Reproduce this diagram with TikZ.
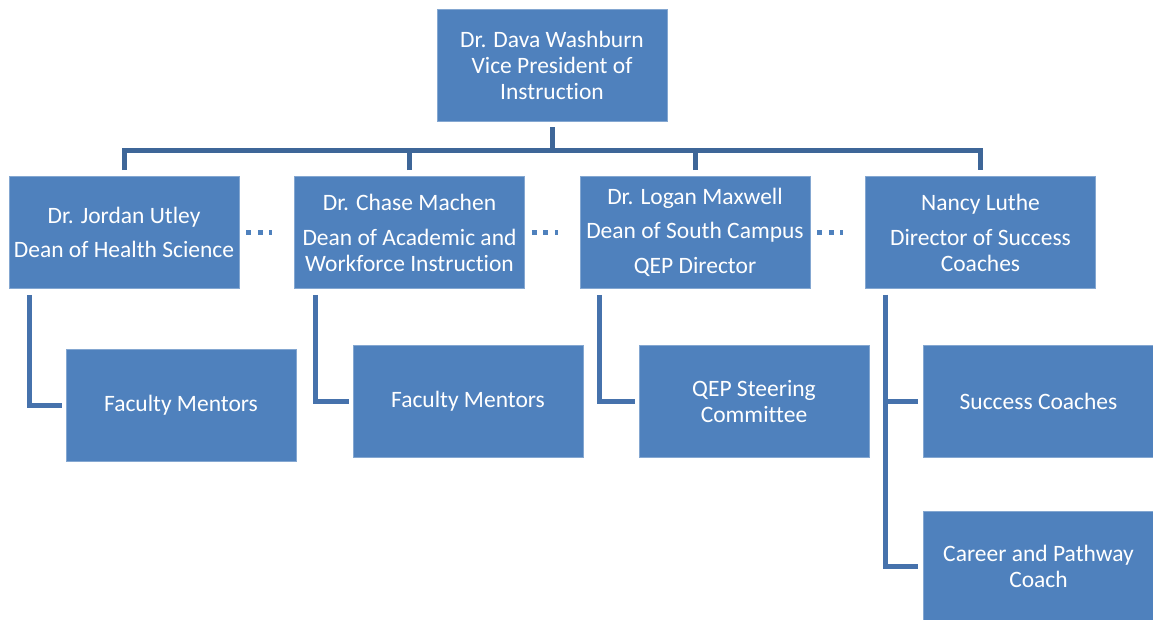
\documentclass[tikz,border=0pt]{standalone}
\usepackage{fontspec}
\setmainfont[Ligatures=NoCommon]{Carlito}
\definecolor{boxblue}{HTML}{4F81BD}
\definecolor{treeblue}{HTML}{3E6698}
\definecolor{subblue}{HTML}{4672AC}

\begin{document}
\begin{tikzpicture}[%
    x=1pt, y=-1pt,
    box/.style={
      rectangle,
      draw=boxblue!70!white,
      line width=0.6pt,
      fill=boxblue,
      text=white,
      align=center,
      minimum width=230pt,
      minimum height=112pt,
      inner sep=0pt,
      font=\fontsize{23.5}{26}\selectfont
    },
    tree/.style={
      draw=treeblue,
      line width=5pt
    },
    sub/.style={
      draw=subblue,
      line width=5pt
    },
    dots/.style={
      draw=boxblue,
      line width=5pt,
      dash pattern=on 5pt off 6.5pt,
      shorten <=7pt,
      shorten >=22pt
    }
  ]
  \useasboundingbox (0,0) rectangle (1153,620);

  % vice president and deans
  \node[box] (vp) at (552,65) {Dr. Dava Washburn\\Vice President of\\Instruction};
  \node[box] (d1) at (124,232.5) {Dr. Jordan Utley\\[8pt]Dean of Health Science};
  \node[box] (d2) at (409.5,232.5) {Dr. Chase Machen\\[9pt]Dean of Academic and\\Workforce Instruction};
  \node[box] (d3) at (695,232.5) {Dr. Logan Maxwell\\[8pt]Dean of South Campus\\[9pt]QEP Director};
  \node[box] (d4) at (980.5,232.5) {Nancy Luthe\\[9pt]Director of Success\\Coaches};

  % teams
  \node[box] (m1) at (181,405) {Faculty Mentors};
  \node[box] (m2) at (468,401) {Faculty Mentors};
  \node[box] (qep) at (754,401) {QEP Steering\\Committee};
  \node[box] (sc) at (1038.5,401) {Success Coaches};
  \node[box, minimum height=109pt] (cp) at (1038.5,566) {Career and Pathway\\Coach};

  % tree
  \coordinate (bus) at ([yshift=-29pt]vp.south);
  \draw[tree] ([yshift=-6pt]vp.south) -- (bus);
  \draw[tree] ([yshift=6pt]d1.north) |- (bus) -| ([yshift=6pt]d4.north);
  \foreach \n in {d2,d3}
    \draw[tree] ([yshift=6pt]\n.north) -- (\n.north |- bus);

  \draw[sub] ([xshift=21pt,yshift=-6pt]d1.south west) |- ([xshift=-4pt]m1.west);
  \draw[sub] ([xshift=21pt,yshift=-6pt]d2.south west) |- ([xshift=-4pt]m2.west);
  \draw[sub] ([xshift=20pt,yshift=-6pt]d3.south west) |- ([xshift=-4pt]qep.west);
  \draw[sub] ([xshift=20pt,yshift=-6pt]d4.south west) |- ([xshift=-5pt]sc.west);
  \draw[sub] ([xshift=20pt,yshift=-6pt]d4.south west) |- ([xshift=-5pt]cp.west);

  \foreach \a/\b in {d1/d2,d2/d3,d3/d4}
    \draw[dots] (\a.east) -- (\b.west);
\end{tikzpicture}
\end{document}
